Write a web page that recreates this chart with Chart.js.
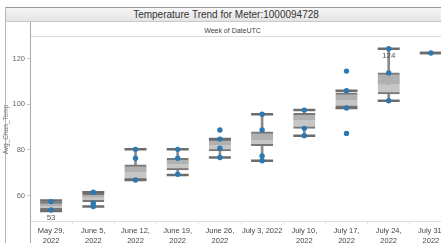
<!DOCTYPE html>
<html>
<head>
<meta charset="utf-8">
<script src="https://cdn.jsdelivr.net/npm/chart.js@4.4.3/dist/chart.umd.min.js"></script>
<style>
  html, body { margin: 0; padding: 0; background: #fff; }
  body { width: 441px; height: 243px; overflow: hidden; position: relative; font-family: "Liberation Sans", Arial, sans-serif; }
  .frame { position: absolute; left: 5px; top: 7px; width: 450px; height: 240px; border-left: 1px solid #b5b5b5; border-top: 1px solid #9a9a9a; }
  .title { position: absolute; left: 6px; top: 8px; width: 440px; height: 13px; background: linear-gradient(#f6f6f6, #e4e4e4); border-bottom: 1px solid #c8c8c8;
           font-size: 10px; line-height: 14px; color: #333; text-align: center; padding-left: 0; }
  .header { position: absolute; left: 30px; top: 22px; width: 411px; height: 15px; border-bottom: 1px solid #dcdcdc;
            font-size: 7px; line-height: 17px; color: #444; text-align: center; padding-right: 6px; box-sizing: border-box; }
  .divider { position: absolute; left: 30px; top: 22px; width: 1px; height: 221px; background: #a8a8a8; }
  .wrap { position: absolute; left: 0; top: 38px; width: 452px; height: 205px; }
  #chart { display: block; }
</style>
</head>
<body>
<div class="frame"></div>
<div class="title">Temperature Trend for Meter:1000094728</div>
<div class="header">Week of DateUTC</div>
<div class="wrap"><canvas id="chart" width="452" height="205" style="width:452px;height:205px"></canvas></div>
<div class="divider"></div>
<script>
const weeks = [
  ['May 29,', '2022'], ['June 5,', '2022'], ['June 12,', '2022'], ['June 19,', '2022'], ['June 26,', '2022'],
  ['July 3, 2022'], ['July 10,', '2022'], ['July 17,', '2022'], ['July 24,', '2022'], ['July 31,', '2022']
];
const boxMin    = [53.2, 55.1, 66.8, 69.0, 76.6, 75.2, 86.2,  98.3, 101.5, 122.4];
const boxQ1     = [53.8, 57.3, 66.8, 71.2, 79.5, 81.8, 89.4,  98.6, 104.5, 122.4];
const boxMedian = [55.5, 59.3, 70.4, 73.8, 82.1, 84.3, 93.1, 101.8, 108.5, 122.4];
const boxQ3     = [57.2, 60.9, 73.4, 76.3, 84.7, 87.9, 96.0, 105.0, 113.7, 122.4];
const boxMax    = [57.8, 61.4, 80.2, 80.2, 84.7, 95.6, 97.4, 105.9, 124.3, 122.4];
const weekPoints = [
  [57.3, 53.6],
  [61.4, 56.6, 55.1],
  [80.2, 76.3, 66.8],
  [80.2, 76.3, 69.3],
  [88.7, 84.7, 80.7, 76.6],
  [95.6, 88.7, 77.3, 75.2],
  [97.4, 89.4, 86.2],
  [114.5, 105.9, 98.3, 87.2],
  [124.3, 113.7, 101.5],
  [122.4]
];
const yTicks = [60, 80, 100, 120];
const yAxisTitle = 'Avg_Chan_Temp';

const catKeys = weeks.map((w, i) => i);
const dotData = [];
weekPoints.forEach((pts, i) => pts.forEach(v => dotData.push({ x: i, y: v })));

const extremeLabels = {
  id: 'extremeLabels',
  afterDatasetsDraw(chart) {
    const { ctx, scales } = chart;
    const lo = boxMin.indexOf(Math.min(...boxMin));
    const hi = boxMax.indexOf(Math.max(...boxMax));
    ctx.save();
    ctx.font = '8px "Liberation Sans", Arial, sans-serif';
    ctx.fillStyle = '#555';
    ctx.textAlign = 'center';
    ctx.textBaseline = 'top';
    [[lo, boxMin[lo]], [hi, boxMax[hi]]].forEach(([i, v]) => {
      ctx.fillText(String(Math.round(v)), scales.x.getPixelForValue(i), scales.y.getPixelForValue(v) + 3);
    });
    ctx.restore();
  }
};

new Chart(document.getElementById('chart'), {
  type: 'bar',
  data: {
    labels: catKeys,
    datasets: [
      {
        type: 'scatter', data: dotData, order: 0,
        backgroundColor: '#2b79b3', borderColor: '#2b79b3', pointRadius: 2.7, pointBorderWidth: 0
      },
      {
        type: 'line', data: boxMax, order: 1, showLine: false,
        pointStyle: 'line', pointRadius: 11, borderColor: '#6c6c6c', pointBorderWidth: 2.5
      },
      {
        type: 'line', data: boxMin, order: 1, showLine: false,
        pointStyle: 'line', pointRadius: 11, borderColor: '#6c6c6c', pointBorderWidth: 2.5
      },
      {
        data: boxMedian.map((m, i) => [m, boxQ3[i]]), order: 2, grouped: false,
        barThickness: 22, backgroundColor: '#b0b0b0', borderColor: '#777',
        borderWidth: { top: 2, bottom: 0, left: 0, right: 0 }, borderSkipped: false
      },
      {
        data: boxQ1.map((q, i) => [q, boxMedian[i]]), order: 2, grouped: false,
        barThickness: 22, backgroundColor: '#c6c6c6', borderColor: '#777',
        borderWidth: { top: 0, bottom: 2, left: 0, right: 0 }, borderSkipped: false
      },
      {
        data: boxMin.map((m, i) => [m, boxMax[i]]), order: 3, grouped: false,
        barThickness: 2, backgroundColor: '#8a8a8a', borderWidth: 0
      }
    ]
  },
  options: {
    responsive: false,
    maintainAspectRatio: false,
    animation: false,
    layout: { padding: 0, autoPadding: false },
    plugins: { legend: { display: false }, tooltip: { enabled: false } },
    scales: {
      x: {
        type: 'category',
        offset: true,
        grid: { offset: true, drawOnChartArea: false, tickLength: 3, color: '#e2e2e2' },
        border: { color: '#dcdcdc' },
        ticks: {
          autoSkip: false, maxRotation: 0, padding: 1, color: '#444',
          font: { family: '"Liberation Sans", Arial, sans-serif', size: 7.5, lineHeight: 1.45 },
          callback: (v, i) => weeks[i]
        },
        afterFit: (s) => { s.height = 22; s.paddingLeft = 0; s.paddingRight = 0; }
      },
      y: {
        min: 48.8,
        max: 129,
        afterBuildTicks: (s) => { s.ticks = yTicks.map(v => ({ value: v })); },
        grid: { drawOnChartArea: false, tickLength: 3, color: '#c8c8c8' },
        border: { display: false },
        ticks: { padding: 2, color: '#666', font: { family: '"Liberation Sans", Arial, sans-serif', size: 7.5 } },
        title: { display: true, text: yAxisTitle, color: '#777', padding: 2, font: { family: '"Liberation Sans", Arial, sans-serif', size: 6.5 } },
        afterFit: (s) => { s.width = 30; s.paddingTop = 0; s.paddingBottom = 0; }
      }
    }
  },
  plugins: [extremeLabels]
});
</script>
</body>
</html>
